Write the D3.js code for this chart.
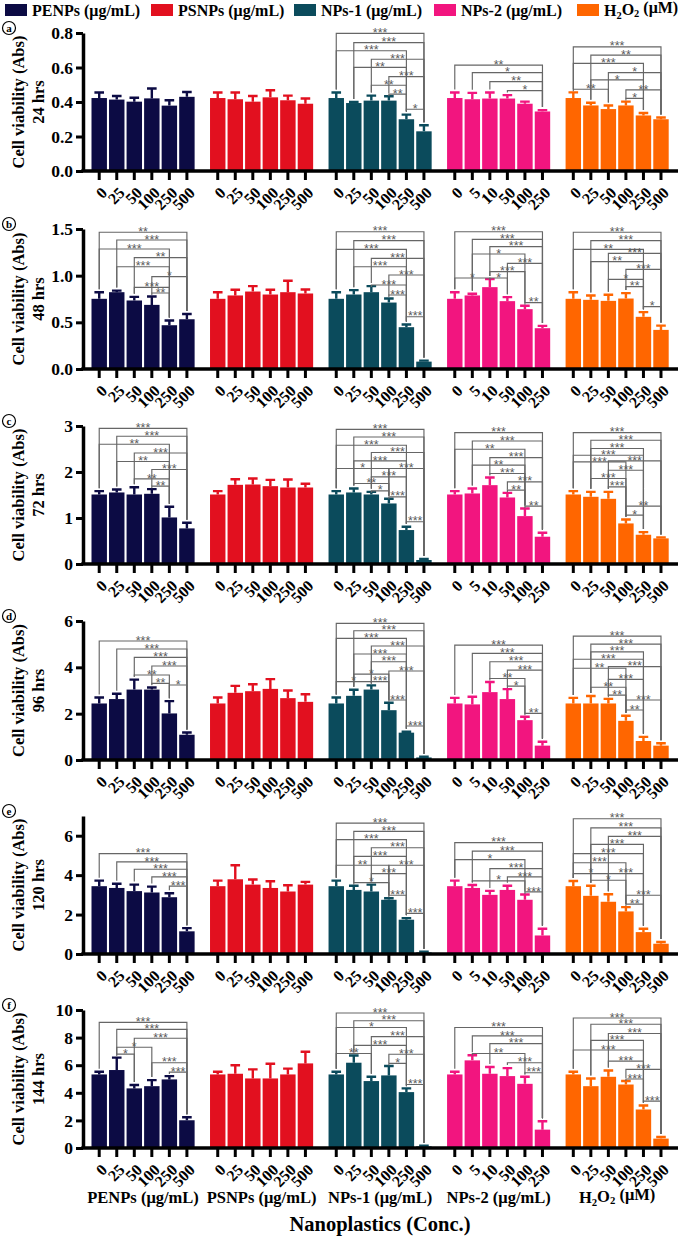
<!DOCTYPE html>
<html><head><meta charset="utf-8">
<script src="https://cdn.jsdelivr.net/npm/d3@7"></script>
<style>
body{margin:0;background:#fff}
svg{display:block}
text{font-family:"Liberation Serif","Times New Roman",serif;font-weight:bold;fill:#000}
.star{font-family:"Liberation Sans",Arial,sans-serif;font-weight:normal;fill:#5a5a5a}
</style>
</head><body><svg id="c" width="680" height="1239"></svg>
<script>
// ---------- DATA ----------
const groupNames = ["PENPs","PSNPs","NPs-1","NPs-2","H2O2"];
const groupUnits = ["(μg/mL)","(μg/mL)","(μg/mL)","(μg/mL)","(μM)"];
const colors = ["#0c0b44","#e2101f","#0b4b5c","#f2157f","#ff6600"];
const concStd = ["0","25","50","100","250","500"];
const concNP2 = ["0","5","10","50","100","250"];
const concLabels = [concStd, concStd, concStd, concNP2, concStd];
const timeLabels = ["24 hrs","48 hrs","72 hrs","96 hrs","120 hrs","144 hrs"];
const panelLetters = ["a","b","c","d","e","f"];
const yMax = [0.8, 1.5, 3, 6, 7, 10];
const yTicks = [[0,0.2,0.4,0.6,0.8],[0,0.5,1,1.5],[0,1,2,3],[0,2,4,6],[0,2,4,6],[0,2,4,6,8,10]];
const tickFmt = [".1f",".1f","d","d","d","d"];
const yTitle = "Cell viability (Abs)";
const xTitle = "Nanoplastics (Conc.)";

// means / SD per group (rows: PENPs, PSNPs, NPs-1, NPs-2, H2O2)
const mean24h = [[0.423,0.414,0.402,0.421,0.379,0.430],[0.423,0.416,0.402,0.427,0.410,0.390],[0.423,0.394,0.408,0.408,0.300,0.230],[0.423,0.416,0.420,0.420,0.390,0.345],[0.423,0.380,0.359,0.380,0.322,0.300]];
const sd24h   = [[0.032,0.021,0.023,0.057,0.031,0.028],[0.032,0.039,0.033,0.041,0.027,0.030],[0.032,0.006,0.029,0.025,0.027,0.035],[0.032,0.037,0.035,0.020,0.012,0.008],[0.033,0.016,0.021,0.022,0.014,0.010]];
const mean48h = [[0.752,0.823,0.734,0.687,0.469,0.533],[0.752,0.788,0.830,0.798,0.823,0.809],[0.752,0.798,0.823,0.712,0.448,0.079],[0.752,0.788,0.877,0.727,0.641,0.437],[0.752,0.741,0.730,0.755,0.559,0.419]];
const sd48h   = [[0.071,0.017,0.039,0.090,0.050,0.057],[0.071,0.061,0.058,0.051,0.122,0.043],[0.071,0.047,0.065,0.043,0.028,0.011],[0.071,0.018,0.086,0.043,0.036,0.025],[0.071,0.047,0.065,0.058,0.050,0.046]];
const mean72h = [[1.511,1.555,1.511,1.526,1.012,0.774],[1.511,1.721,1.728,1.692,1.663,1.663],[1.511,1.555,1.511,1.316,0.738,0.087],[1.511,1.533,1.714,1.446,1.041,0.593],[1.511,1.461,1.417,0.882,0.636,0.557]];
const sd72h   = [[0.073,0.065,0.159,0.101,0.232,0.123],[0.073,0.123,0.130,0.137,0.174,0.080],[0.073,0.086,0.058,0.101,0.072,0.021],[0.073,0.108,0.166,0.101,0.166,0.087],[0.073,0.108,0.152,0.087,0.058,0.021]];
const mean96h = [[2.44,2.63,3.04,3.04,2.01,1.09],[2.44,2.90,2.97,3.07,2.67,2.51],[2.44,2.77,3.04,2.15,1.18,0.11],[2.44,2.40,2.93,2.63,1.72,0.62],[2.44,2.44,2.44,1.69,0.82,0.62]];
const sd96h   = [[0.26,0.23,0.43,0.09,0.53,0.10],[0.26,0.30,0.30,0.42,0.33,0.33],[0.26,0.26,0.18,0.32,0.04,0.03],[0.24,0.33,0.44,0.43,0.15,0.17],[0.24,0.32,0.20,0.22,0.18,0.10]];
const mean120h = [[3.44,3.35,3.19,3.12,2.88,1.15],[3.44,3.79,3.52,3.35,3.17,3.52],[3.44,3.25,3.17,2.75,1.74,0.08],[3.44,3.35,3.00,3.25,2.75,0.94],[3.44,2.95,2.65,2.16,1.11,0.52]];
const sd120h   = [[0.28,0.21,0.33,0.30,0.20,0.16],[0.28,0.71,0.26,0.34,0.32,0.14],[0.28,0.21,0.35,0.08,0.08,0.04],[0.28,0.15,0.20,0.21,0.27,0.34],[0.26,0.51,0.38,0.22,0.17,0.09]];
const mean144h = [[5.33,5.65,4.32,4.48,4.97,2.01],[5.33,5.38,5.04,5.04,5.33,6.13],[5.33,6.18,4.85,5.26,4.05,0.12],[5.33,6.35,5.38,5.21,4.65,1.33],[5.33,4.48,5.16,4.60,2.79,0.68]];
const sd144h   = [[0.20,0.90,0.24,0.44,0.24,0.22],[0.20,0.62,0.66,1.06,0.42,0.85],[0.20,0.52,0.31,0.68,0.27,0.05],[0.20,0.37,0.49,0.58,0.51,0.61],[0.20,0.56,0.46,0.25,0.29,0.12]];

// significance brackets: [group, from, to, label, level (axis units)]
const sig24h = [
 [2,0,5,"***",0.798],[2,1,5,"***",0.744],[2,0,4,"***",0.697],[2,2,5,"***",0.648],[2,1,4,"**",0.601],[2,3,5,"***",0.547],[2,2,4,"**",0.497],[2,3,4,"**",0.446],[2,4,5,"*",0.358],
 [3,0,5,"**",0.614],[3,1,5,"*",0.570],[3,2,5,"**",0.518],[3,3,5,"*",0.466],
 [4,0,5,"***",0.720],[4,1,5,"**",0.672],[4,0,4,"***",0.624],[4,2,5,"*",0.570],[4,1,4,"*",0.528],[4,0,2,"**",0.474],[4,3,5,"**",0.470],[4,3,4,"*",0.421]];
const sig48h = [
 [0,0,5,"**",1.465],[0,1,5,"***",1.382],[0,0,4,"***",1.286],[0,2,5,"**",1.193],[0,1,4,"***",1.096],[0,3,5,"*",0.989],[0,2,4,"***",0.875],[0,3,4,"**",0.814],
 [2,0,5,"***",1.471],[2,1,5,"***",1.375],[2,0,4,"***",1.282],[2,2,5,"***",1.186],[2,1,4,"***",1.096],[2,3,5,"***",1.007],[2,2,4,"***",0.900],[2,3,4,"***",0.793],[2,4,5,"***",0.560],
 [3,0,5,"***",1.471],[3,1,5,"***",1.389],[3,2,5,"***",1.311],[3,1,4,"*",1.232],[3,3,5,"***",1.132],[3,2,4,"***",1.043],[3,0,2,"*",0.975],[3,2,3,"*",0.975],[3,4,5,"**",0.711],
 [4,0,5,"***",1.465],[4,1,5,"***",1.375],[4,0,4,"**",1.282],[4,2,5,"***",1.239],[4,1,4,"**",1.150],[4,3,5,"***",1.068],[4,2,4,"*",0.961],[4,3,4,"**",0.882],[4,4,5,"*",0.668]];
const sig72h = [
 [0,0,5,"***",2.950],[0,1,5,"***",2.777],[0,0,4,"**",2.603],[0,2,5,"***",2.414],[0,1,4,"**",2.228],[0,3,5,"***",2.054],[0,2,4,"**",1.850],[0,3,4,"**",1.692],
 [2,0,5,"***",2.928],[2,1,5,"***",2.761],[2,0,4,"***",2.581],[2,2,5,"***",2.423],[2,1,4,"***",2.241],[2,0,3,"*",2.076],[2,3,5,"***",2.076],[2,2,4,"***",1.894],[2,1,3,"**",1.750],[2,2,3,"*",1.590],[2,3,4,"***",1.460],[2,4,5,"***",0.918],
 [3,0,5,"***",2.857],[3,1,5,"***",2.675],[3,0,4,"**",2.495],[3,2,5,"***",2.314],[3,1,4,"**",2.148],[3,2,4,"***",1.967],[3,3,5,"***",1.785],[3,3,4,"**",1.605],[3,4,5,"**",1.258],
 [4,0,5,"***",2.857],[4,1,5,"***",2.690],[4,1,4,"***",2.510],[4,0,4,"***",2.364],[4,0,3,"***",2.219],[4,2,5,"***",2.241],[4,2,4,"***",2.039],[4,1,3,"***",1.859],[4,2,3,"***",1.677],[4,3,5,"**",1.258],[4,3,4,"*",1.063]];
const sig96h = [
 [0,0,5,"***",5.136],[0,1,5,"***",4.790],[0,2,5,"***",4.430],[0,3,5,"***",4.057],[0,2,4,"**",3.668],[0,3,4,"**",3.310],[0,4,5,"*",3.237],
 [2,0,5,"***",5.90],[2,1,5,"***",5.58],[2,0,4,"***",5.25],[2,2,5,"***",4.92],[2,1,4,"***",4.575],[2,2,4,"***",4.243],[2,3,5,"***",3.84],[2,1,3,"*",3.71],[2,0,2,"*",3.38],[2,2,3,"***",3.38],[2,3,4,"***",2.59],[2,4,5,"***",1.467],
 [3,0,5,"***",4.96],[3,1,5,"***",4.60],[3,2,5,"***",4.24],[3,3,5,"***",3.88],[3,2,4,"**",3.52],[3,3,4,"*",3.19],[3,4,5,"**",2.015],
 [4,0,5,"***",5.35],[4,1,5,"***",5.00],[4,1,4,"***",4.67],[4,0,4,"***",4.35],[4,0,3,"**",3.96],[4,2,5,"***",4.03],[4,2,4,"***",3.48],[4,1,3,"**",3.14],[4,2,3,"**",2.80],[4,3,5,"***",2.59],[4,3,4,"**",2.16]];
const sig120h = [
 [0,0,5,"***",5.09],[0,1,5,"***",4.67],[0,2,5,"***",4.30],[0,3,5,"***",3.91],[0,4,5,"***",3.44],
 [2,0,5,"***",6.64],[2,1,5,"***",6.22],[2,0,4,"***",5.80],[2,2,5,"***",5.39],[2,1,4,"***",4.95],[2,0,3,"**",4.50],[2,3,5,"***",4.50],[2,2,4,"***",4.08],[2,1,3,"*",3.62],[2,3,4,"***",2.98],[2,4,5,"***",2.06],
 [3,0,5,"***",5.65],[3,1,5,"***",5.22],[3,0,4,"*",4.79],[3,2,5,"***",4.33],[3,3,5,"***",3.91],[3,1,4,"*",3.71],[3,4,5,"***",3.15],
 [4,0,5,"***",6.86],[4,1,5,"***",6.40],[4,2,5,"***",5.97],[4,1,4,"***",5.56],[4,0,4,"***",5.09],[4,0,3,"***",4.63],[4,0,2,"*",4.08],[4,2,4,"***",4.08],[4,1,3,"*",3.74],[4,3,5,"***",2.98],[4,3,4,"**",2.53]];
const sig144h = [
 [0,0,5,"***",9.10],[0,1,5,"***",8.60],[0,2,5,"***",7.95],[0,1,3,"*",7.30],[0,1,2,"*",6.80],[0,3,5,"***",6.18],[0,4,5,"***",5.50],
 [2,0,5,"***",9.78],[2,1,5,"***",9.22],[2,0,4,"*",8.73],[2,2,5,"***",8.07],[2,1,4,"***",7.44],[2,0,2,"**",6.85],[2,3,5,"***",6.79],[2,3,4,"*",6.13],[2,4,5,"***",4.60],
 [3,0,5,"***",8.73],[3,1,5,"***",8.12],[3,2,5,"***",7.56],[3,1,4,"**",6.85],[3,3,5,"***",6.18],[3,4,5,"***",5.45],
 [4,0,5,"***",9.42],[4,1,5,"***",8.97],[4,2,5,"***",8.30],[4,1,4,"***",7.80],[4,0,4,"***",7.10],[4,2,4,"***",6.30],[4,3,5,"***",5.70],[4,3,4,"***",5.00],[4,4,5,"***",3.40]];

const panels = [
 {mean:mean24h, sd:sd24h, sig:sig24h},
 {mean:mean48h, sd:sd48h, sig:sig48h},
 {mean:mean72h, sd:sd72h, sig:sig72h},
 {mean:mean96h, sd:sd96h, sig:sig96h},
 {mean:mean120h, sd:sd120h, sig:sig120h},
 {mean:mean144h, sd:sd144h, sig:sig144h}];

// ---------- LAYOUT ----------
const svg = d3.select("#c");
const base = [171,369,564,760,954,1148];
const tops = [33,229,426,621,816,1010];
const AX = 83, AXR = 678;
const xG = d3.scaleBand().domain(d3.range(5)).range([91.5,668.7]).paddingInner(0.13).paddingOuter(0);
const xC = d3.scaleBand().domain(d3.range(6)).range([0, xG.bandwidth()]).paddingInner(0.12);
const cx = (g,i) => xG(g) + xC(i) + xC.bandwidth()/2;

function writeName(sel, gi){
  if (gi === 4){
    sel.append("tspan").text("H");
    sel.append("tspan").text("2").attr("font-size","0.65em").attr("dy","0.25em");
    sel.append("tspan").text("O").attr("dy","-0.25em");
    sel.append("tspan").text("2").attr("font-size","0.65em").attr("dy","0.25em");
    sel.append("tspan").text(" " + groupUnits[gi]).attr("dy","-0.25em");
  } else {
    sel.text(groupNames[gi] + " " + groupUnits[gi]);
  }
}

// legend
const legX = [5,151,294,434,577];
groupNames.forEach((n,gi)=>{
  svg.append("rect").attr("x",legX[gi]).attr("y",4).attr("width",22).attr("height",12).attr("fill",colors[gi]);
  const t = svg.append("text").attr("x",legX[gi]+27).attr("y",16).attr("font-size",16);
  writeName(t, gi);
});

panels.forEach((p,pi)=>{
  const y = d3.scaleLinear().domain([0,yMax[pi]]).range([base[pi], tops[pi]]);
  const g = svg.append("g");
  const flat = d3.range(5).flatMap(gi => p.mean[gi].map((m,ci)=>({gi,ci,m,sd:p.sd[gi][ci]})));

  // bars
  g.selectAll("rect.bar").data(flat).join("rect").attr("class","bar")
    .attr("x", d=>xG(d.gi)+xC(d.ci)).attr("width", xC.bandwidth())
    .attr("y", d=>y(d.m)).attr("height", d=>y(0)-y(d.m))
    .attr("fill", d=>colors[d.gi]);
  // error bars
  g.selectAll("path.err").data(flat).join("path").attr("class","err")
    .attr("d", d=>{const x=cx(d.gi,d.ci), yt=y(d.m+d.sd);
       return `M${x},${y(d.m)}V${yt}M${x-4.8},${yt}H${x+4.8}`;})
    .attr("stroke", d=>colors[d.gi]).attr("stroke-width",2.4).attr("fill","none");

  // significance brackets
  const legEnd = (gi,ci,yl) => Math.max(yl+2, y(p.mean[gi][ci]+p.sd[gi][ci]) - 3);
  g.selectAll("path.br").data(p.sig).join("path").attr("class","br")
    .attr("d", d=>{const [gi,a,b,,lev]=d; const yl=y(lev);
      return `M${cx(gi,a)},${legEnd(gi,a,yl)}V${yl}H${cx(gi,b)}V${legEnd(gi,b,yl)}`;})
    .attr("fill","none").attr("stroke","#666").attr("stroke-width",1.15);
  g.selectAll("text.star").data(p.sig).join("text").attr("class","star")
    .attr("x", d=>(cx(d[0],d[1])+cx(d[0],d[2]))/2).attr("y", d=>y(d[4])+3.6)
    .attr("text-anchor","middle").attr("font-size",12.5).text(d=>d[3]);

  // y axis
  const ya = g.append("g").attr("transform",`translate(${AX},0)`)
    .call(d3.axisLeft(y).tickValues(yTicks[pi]).tickFormat(d3.format(tickFmt[pi])).tickSize(7).tickSizeOuter(0).tickPadding(3));
  ya.attr("font-family",null);
  ya.select(".domain").attr("stroke-width",3.5);
  ya.selectAll(".tick line").attr("stroke-width",3);
  ya.selectAll(".tick text").attr("font-size",17.5);

  // x axis line
  g.append("line").attr("x1",AX-1.7).attr("x2",AXR).attr("y1",y(0)).attr("y2",y(0))
    .attr("stroke","#000").attr("stroke-width",3.5);
  // x ticks per group
  d3.range(5).forEach(gi=>{
    const xa = g.append("g").attr("transform",`translate(${xG(gi)},${y(0)})`)
      .call(d3.axisBottom(xC).tickSize(9).tickSizeOuter(0).tickFormat(i=>concLabels[gi][i]));
    xa.attr("font-family",null);
    xa.select(".domain").remove();
    xa.selectAll(".tick line").attr("stroke-width",3);
    xa.selectAll(".tick text").attr("font-size",16)
      .attr("y",0).attr("dy","0.35em").attr("text-anchor","end")
      .attr("transform","translate(5,19) rotate(-45)");
  });

  // y titles
  const cy = (base[pi]+tops[pi])/2;
  svg.append("text").attr("transform",`translate(18,${cy}) rotate(-90)`).attr("text-anchor","middle")
    .attr("dy","0.35em").attr("font-size",16.5).text(yTitle);
  svg.append("text").attr("transform",`translate(38,${cy}) rotate(-90)`).attr("text-anchor","middle")
    .attr("dy","0.35em").attr("font-size",16.5).text(timeLabels[pi]);
  // panel letter
  const ly = tops[pi]-5;
  svg.append("circle").attr("cx",9).attr("cy",ly).attr("r",6.5).attr("fill","none").attr("stroke","#000").attr("stroke-width",1.2);
  svg.append("text").attr("x",9).attr("y",ly).attr("dy","0.33em").attr("text-anchor","middle").attr("font-size",11).text(panelLetters[pi]);
});

// group labels
groupNames.forEach((n,gi)=>{
  const t = svg.append("text").attr("x", xG(gi)+xG.bandwidth()/2).attr("y",1203).attr("text-anchor","middle").attr("font-size",16.5);
  writeName(t, gi);
});
svg.append("text").attr("x",380).attr("y",1231).attr("text-anchor","middle").attr("font-size",20.5).text(xTitle);
</script>
</body></html>
